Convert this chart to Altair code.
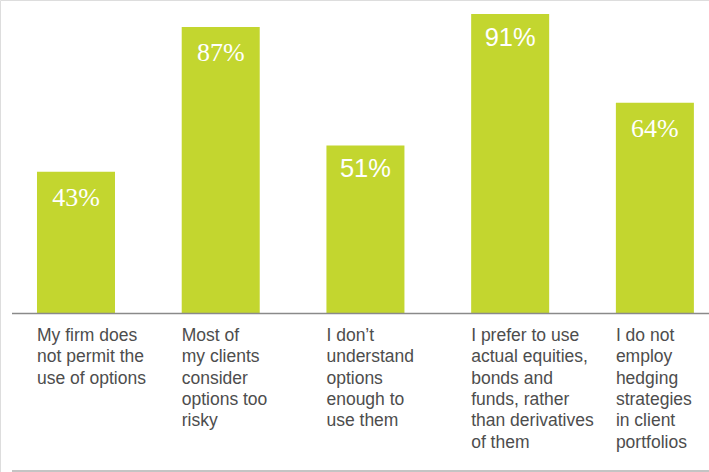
import altair as alt
import pandas as pd

categories = [
    "My firm does\nnot permit the\nuse of options",
    "Most of\nmy clients\nconsider\noptions too\nrisky",
    "I don\u2019t\nunderstand\noptions\nenough to\nuse them",
    "I prefer to use\nactual equities,\nbonds and\nfunds, rather\nthan derivatives\nof them",
    "I do not\nemploy\nhedging\nstrategies\nin client\nportfolios",
]
values = [43, 87, 51, 91, 64]
value_labels = ["43%", "87%", "51%", "91%", "64%"]

df = pd.DataFrame({
    "order": list(range(len(categories))),
    "category": categories,
    "value": values,
    "label": value_labels,
})

BAR_COLOR = "#c3d62f"

def xs(band_pos=None):
    kw = {}
    if band_pos is not None:
        kw["bandPosition"] = band_pos
    return alt.X("order:O", axis=None,
                 scale=alt.Scale(paddingInner=0.461, paddingOuter=0.18, align=0.71), **kw)

y_scale = alt.Scale(domain=[-48.39, 95.25], nice=False, zero=False)
y_enc = alt.Y("value:Q", scale=y_scale, axis=None)

base = alt.Chart(df)

bars = base.mark_bar(color=BAR_COLOR).encode(x=xs(), y=y_enc, y2=alt.datum(0))

# the original mixes a serif and a sans face for the value labels
sans_idx = [2, 3]
pct_serif = base.transform_filter(
    ~alt.FieldOneOfPredicate(field="order", oneOf=sans_idx)
).mark_text(
    color="white", font="Liberation Serif", fontSize=26, baseline="alphabetic",
    align="center", dy=34,
).encode(x=xs(), y=y_enc, text="label:N")

pct_sans = base.transform_filter(
    alt.FieldOneOfPredicate(field="order", oneOf=sans_idx)
).mark_text(
    color="white", font="Liberation Sans", fontSize=25.5, baseline="alphabetic",
    align="center", dy=32,
).encode(x=xs(), y=y_enc, text="label:N")

cat_labels = base.mark_text(
    color="#4d4d4d", font="Liberation Sans", fontSize=17.5, baseline="alphabetic",
    align="left", lineBreak="\n", lineHeight=21.3,
).encode(x=xs(0), y=alt.value(341), text="category:N")

rule_top = alt.Chart(pd.DataFrame({"a": [0]})).mark_rule(color="#8a8a8a", strokeWidth=1.4).encode(
    x=alt.value(12), x2=alt.value(709), y=alt.value(313.5)
)
rule_bottom = alt.Chart(pd.DataFrame({"a": [0]})).mark_rule(color="#8a8a8a", strokeWidth=1.2).encode(
    x=alt.value(12), x2=alt.value(709), y=alt.value(471)
)

chart = alt.layer(bars, pct_serif, pct_sans, cat_labels, rule_top, rule_bottom).properties(
    width=709, height=472, padding=0, autosize=alt.AutoSizeParams(type="none"),
).configure_view(stroke=None).configure(background="white")

chart.save("out.html", embed_options={"renderer": "svg", "actions": False})
